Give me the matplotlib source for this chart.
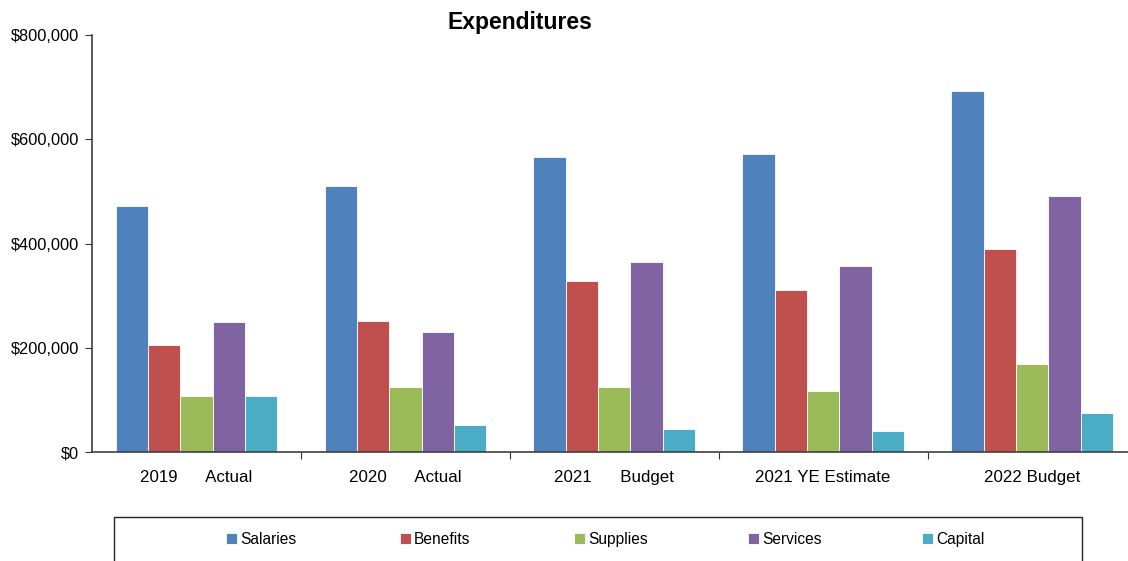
import matplotlib.pyplot as plt
from matplotlib.patches import Rectangle
from matplotlib.ticker import FuncFormatter
import numpy as np

plt.rcParams['font.family'] = ['Liberation Sans', 'DejaVu Sans']

categories = ['2019      Actual', '2020      Actual', '2021      Budget',
              '2021 YE Estimate', '2022 Budget']
series = ['Salaries', 'Benefits', 'Supplies', 'Services', 'Capital']
salaries = [471000, 510000, 565000, 572000, 692000]
benefits = [205000, 252000, 329000, 310000, 390000]
supplies = [107000, 125000, 125000, 117000, 168000]
services = [249000, 231000, 365000, 357000, 492000]
capital = [107000, 52000, 45000, 41000, 74000]
colors = ['#4F81BD', '#C0504D', '#9BBB59', '#8064A2', '#4BACC6']

values = [salaries, benefits, supplies, services, capital]

fig = plt.figure(figsize=(11.28, 5.61), dpi=100)
ax = fig.add_axes([92 / 1128, 109 / 561, 1044.5 / 1128, 417 / 561])

centers = np.arange(len(categories)) + 0.5
bar_w = 0.1547
bars = []
for j, (name, vals) in enumerate(zip(series, values)):
    b = ax.bar(centers + (j - 2) * bar_w, vals, width=bar_w, color=colors[j],
               edgecolor='white', linewidth=0.6, label=name)
    bars.append(b)

ax.set_xlim(0, len(categories))
ax.set_ylim(0, 800000)
ax.set_yticks(np.arange(0, 800001, 200000))
ax.yaxis.set_major_formatter(FuncFormatter(lambda v, p: '${:,.0f}'.format(v)))

ax.set_xticks(np.arange(1, len(categories)))
ax.set_xticklabels([])
ax.set_xticks(centers, minor=True)
ax.set_xticklabels(categories, minor=True, fontsize=12.2)
ax.tick_params(axis='x', which='major', length=5, direction='out', color='#333333')
ax.tick_params(axis='x', which='minor', length=0, pad=13)
ax.tick_params(axis='y', length=5, direction='out', labelsize=11.8, color='#333333', pad=4)

for s in ['top', 'right']:
    ax.spines[s].set_visible(False)
for s in ['left', 'bottom']:
    ax.spines[s].set_color('#404040')
    ax.spines[s].set_linewidth(1.2)

fig.text(520 / 1128, 1 - 22 / 561, 'Expenditures', ha='center', va='center',
         fontsize=16.5, fontweight='bold')

# legend frame, runs off the bottom of the picture
fig.patches.append(Rectangle((114 / 1128, -0.05), 968 / 1128, 0.05 + 44 / 561,
                             transform=fig.transFigure, fill=False,
                             edgecolor='#222222', linewidth=1.0))
# one entry per column, equal column widths like the original
for j, (name, b) in enumerate(zip(series, bars)):
    fig.legend([b], [name], loc='upper left',
               bbox_to_anchor=((226 + 174 * j) / 1128, 1 - 532 / 561),
               frameon=False, fontsize=11.2, handlelength=0.7, handleheight=0.7,
               handletextpad=0.2, borderpad=0, borderaxespad=0)

fig.savefig('out.png', dpi=100)
